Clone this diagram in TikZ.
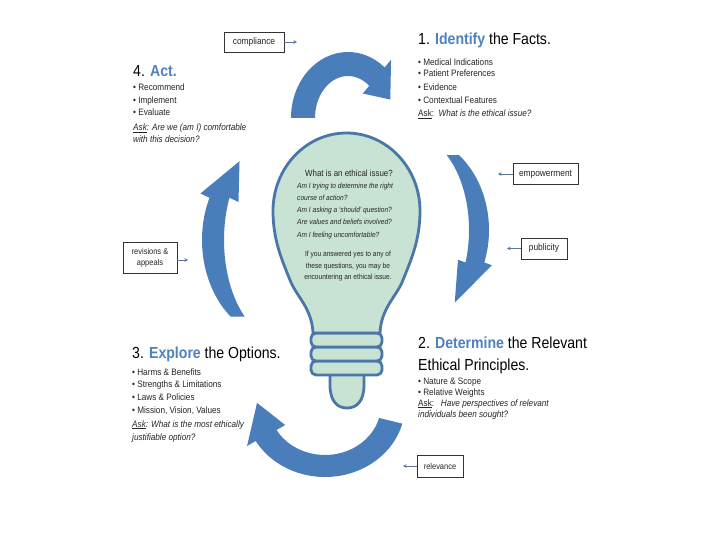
\documentclass[tikz,border=0pt]{standalone}
\usepackage{fontspec}
\setmainfont{Liberation Sans}[FakeStretch=0.88]
\usetikzlibrary{arrows.meta}
\definecolor{tblue}{RGB}{79,129,189}
\definecolor{arrowblue}{RGB}{74,126,187}
\definecolor{bulbfill}{RGB}{200,226,212}
\definecolor{bulbline}{RGB}{74,118,168}
\definecolor{linkc}{RGB}{90,120,150}
\def\cyclebarb{10}
\newcommand{\cyclearrow}[9]{%
 \fill[cyclefill] ({#1+#3*cos(#7)},{#2+#4*sin(#7)})
   arc[start angle=#7,end angle=#8,x radius=#3,y radius=#4]
   -- ({#1+(#3+\cyclebarb)*cos(#8)},{#2+(#4+\cyclebarb)*sin(#8)})
   -- ({#1+(#3+#5)/2*cos(#9)},{#2+(#4+#6)/2*sin(#9)})
   -- ({#1+(#5-\cyclebarb)*cos(#8)},{#2+(#6-\cyclebarb)*sin(#8)})
   -- ({#1+#5*cos(#8)},{#2+#6*sin(#8)})
   arc[start angle=#8,end angle=#7,x radius=#5,y radius=#6]
   -- cycle;}
\tikzset{
 titletext/.style={anchor=base west, inner sep=0, font=\fontsize{16}{18}\selectfont},
 bodytext/.style={anchor=base west, inner sep=0, font=\fontsize{9.3}{11}\selectfont, text=black!85},
 bulbtext/.style={anchor=base west, inner sep=0, font=\fontsize{7.5}{8}\selectfont\itshape, text=black!85},
 bulbcenter/.style={anchor=base, inner sep=0, font=\fontsize{7.5}{8}\selectfont, text=black!85},
 labelbox/.style={draw=black!80, line width=0.8pt, fill=white, inner sep=0, font=\fontsize{9.5}{11}\selectfont, text=black!85},
 linkarrow/.style={draw=linkc, line width=0.8pt, -{Stealth[length=3.5pt,width=3.5pt]}},
 cyclefill/.style={fill=arrowblue},
 bulbshape/.style={draw=bulbline, line width=2.8pt, fill=bulbfill, line join=round},
}
\begin{document}
\begin{tikzpicture}[x=1pt,y=-1pt]
\useasboundingbox (0,0) rectangle (720,540);
\fill[white] (0,0) rectangle (720,540);

% cycle arrows
\cyclearrow{348}{118}{57}{66}{33}{42}{180}{310}{340}
\def\cyclebarb{8}
\cyclearrow{411}{230}{78}{95}{58}{95}{-52}{20}{50}
\def\cyclebarb{10}
\cyclearrow{282}{240}{80}{100}{58}{100}{130}{205}{232}
\cyclearrow{325}{405}{80}{72}{56}{50}{15}{150}{182}

% bulb
\draw[bulbshape] (330,372) -- (330,385) .. controls (330,402) and (338,408) .. (347,408)
  .. controls (356,408) and (364,402) .. (364,385) -- (364,372) -- cycle;
\draw[bulbshape, rounded corners=5pt] (311,361) rectangle (382,375);
\draw[bulbshape, rounded corners=5pt] (311,347) rectangle (382,361);
\draw[bulbshape, rounded corners=5pt] (311,333) rectangle (382,347);
\draw[bulbshape] (313,333) .. controls (312,308) and (296,296) .. (290,280)
  .. controls (282,260) and (273,240) .. (273,211)
  arc[start angle=180,end angle=360,x radius=73.5,y radius=78]
  .. controls (420,240) and (411,260) .. (403,280)
  .. controls (397,296) and (381,308) .. (380,333) -- cycle;

% bulb text
\node[bulbcenter, font=\fontsize{9}{10}\selectfont] (bq) at (349,177) {What is an ethical issue?};
\node[bulbtext] (b1) at (297,189) {Am I trying to determine the right};
\node[bulbtext] (b2) at (297,201) {course of action?};
\node[bulbtext] (b3) at (297,213) {Am I asking a `should' question?};
\node[bulbtext] (b4) at (297,225) {Are values and beliefs involved?};
\node[bulbtext] (b5) at (297,237) {Am I feeling uncomfortable?};
\node[bulbcenter] (c1) at (348,256) {If you answered yes to any of};
\node[bulbcenter] (c2) at (348,268) {these questions, you may be};
\node[bulbcenter] (c3) at (348,279) {encountering an ethical issue.};

% 4. Act
\node[titletext] (acttitle) at (133,77) {4. \textcolor{tblue}{\textbf{Act.}}};
\node[bodytext] (a1) at (133,91) {• Recommend};
\node[bodytext] (a2) at (133,104) {• Implement};
\node[bodytext] (a3) at (133,116) {• Evaluate};
\node[bodytext] (a4) at (133,131) {\textit{\underline{Ask}: Are we (am I) comfortable}};
\node[bodytext] (a5) at (133,143) {\textit{with this decision?}};

% 1. Identify
\node[titletext] (idtitle) at (418,45) {1. \textcolor{tblue}{\textbf{Identify}} the Facts.};
\node[bodytext] (i1) at (418,66) {• Medical Indications};
\node[bodytext] (i2) at (418,77) {• Patient Preferences};
\node[bodytext] (i3) at (418,91) {• Evidence};
\node[bodytext] (i4) at (418,104) {• Contextual Features};
\node[bodytext] (i5) at (418,117) {\underline{Ask}:\ \ \textit{What is the ethical issue?}};

% 3. Explore
\node[titletext] (extitle) at (132,358) {3. \textcolor{tblue}{\textbf{Explore}} the Options.};
\node[bodytext] (e1) at (132,375) {• Harms \& Benefits};
\node[bodytext] (e2) at (132,387) {• Strengths \& Limitations};
\node[bodytext] (e3) at (132,400) {• Laws \& Policies};
\node[bodytext] (e4) at (132,413) {• Mission, Vision, Values};
\node[bodytext] (e5) at (132,427) {\textit{\underline{Ask}: What is the most ethically}};
\node[bodytext] (e6) at (132,440) {\textit{justifiable option?}};

% 2. Determine
\node[titletext] (dtitle) at (418,348) {2. \textcolor{tblue}{\textbf{Determine}} the Relevant};
\node[titletext] (dtitle2) at (418,370) {Ethical Principles.};
\node[bodytext] (d1) at (418,384) {• Nature \& Scope};
\node[bodytext] (d2) at (418,395) {• Relative Weights};
\node[bodytext] (d3) at (418,406) {\underline{Ask}:\ \ \ \textit{Have perspectives of relevant}};
\node[bodytext] (d4) at (418,417) {\textit{individuals been sought?}};

% label boxes
\node[labelbox, minimum width=60pt, minimum height=20pt] (comp) at (254,42) {compliance};
\node[labelbox, minimum width=65pt, minimum height=21pt] (emp) at (545.5,174) {empowerment};
\node[labelbox, minimum width=46pt, minimum height=21pt] (pub) at (544,248.5) {publicity};
\node[labelbox, minimum width=54pt, minimum height=31pt, align=center, font=\fontsize{8.5}{11}\selectfont] (rev) at (150,257.5) {revisions \&\\appeals};
\node[labelbox, minimum width=46pt, minimum height=22pt, font=\fontsize{8.5}{10}\selectfont] (rel) at (440,466) {relevance};

\coordinate (compend) at (297,42);
\coordinate (empend) at (498,174);
\coordinate (pubend) at (507,248.5);
\coordinate (revend) at (188,260);
\coordinate (relend) at (403,466);
\draw[linkarrow] (comp.east) -- (compend);
\draw[linkarrow] (emp.west) -- (empend);
\draw[linkarrow] (pub.west) -- (pubend);
\draw[linkarrow] (rev.east |- revend) -- (revend);
\draw[linkarrow] (rel.west) -- (relend);
\end{tikzpicture}
\end{document}
